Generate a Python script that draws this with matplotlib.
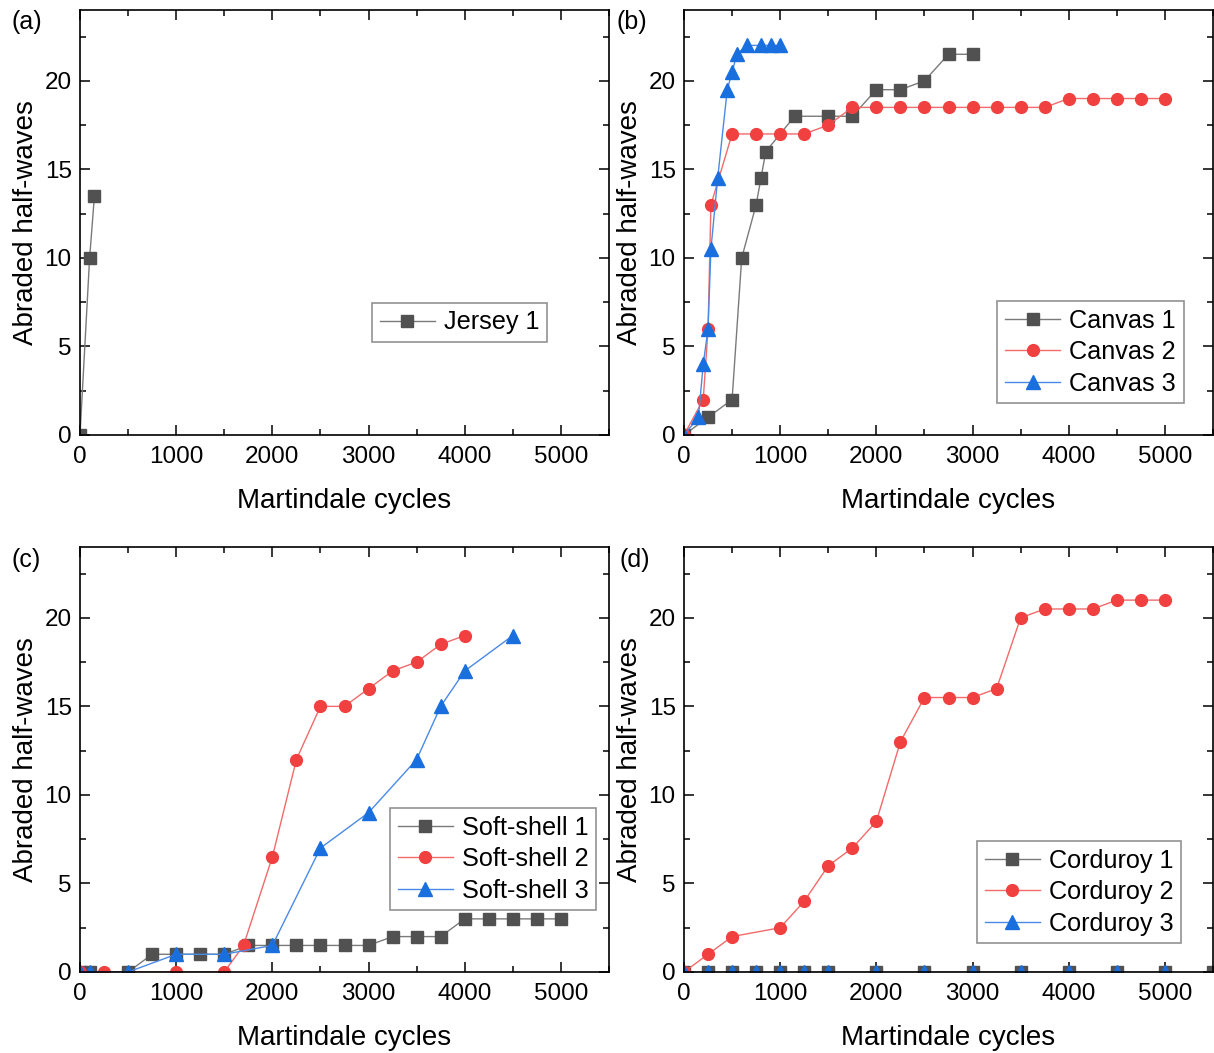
import matplotlib
matplotlib.use("Agg")
import matplotlib.pyplot as plt
from matplotlib.ticker import MultipleLocator

plt.rcParams['font.family'] = ['Liberation Sans', 'DejaVu Sans']

# ---- data ----
jersey1_x = [0, 100, 150]
jersey1_y = [0, 10, 13.5]

canvas1_x = [0, 250, 500, 600, 750, 800, 850, 1150, 1500, 1750, 2000, 2250, 2500, 2750, 3000]
canvas1_y = [0, 1, 2, 10, 13, 14.5, 16, 18, 18, 18, 19.5, 19.5, 20, 21.5, 21.5]
canvas2_x = [0, 200, 250, 280, 500, 750, 1000, 1250, 1500, 1750, 2000, 2250, 2500, 2750, 3000,
             3250, 3500, 3750, 4000, 4250, 4500, 4750, 5000]
canvas2_y = [0, 2, 6, 13, 17, 17, 17, 17, 17.5, 18.5, 18.5, 18.5, 18.5, 18.5, 18.5,
             18.5, 18.5, 18.5, 19, 19, 19, 19, 19]
canvas3_x = [0, 150, 200, 250, 280, 350, 450, 500, 550, 650, 800, 900, 1000]
canvas3_y = [0, 1, 4, 6, 10.5, 14.5, 19.5, 20.5, 21.5, 22, 22, 22, 22]

soft1_x = [0, 100, 500, 750, 1000, 1250, 1500, 1750, 2000, 2250, 2500, 2750, 3000,
           3250, 3500, 3750, 4000, 4250, 4500, 4750, 5000]
soft1_y = [0, 0, 0, 1, 1, 1, 1, 1.5, 1.5, 1.5, 1.5, 1.5, 1.5,
           2, 2, 2, 3, 3, 3, 3, 3]
soft2_x = [0, 250, 1000, 1500, 1700, 2000, 2250, 2500, 2750, 3000, 3250, 3500, 3750, 4000]
soft2_y = [0, 0, 0, 0, 1.5, 6.5, 12, 15, 15, 16, 17, 17.5, 18.5, 19]
soft3_x = [0, 100, 500, 1000, 1500, 2000, 2500, 3000, 3500, 3750, 4000, 4500]
soft3_y = [0, 0, 0, 1, 1, 1.5, 7, 9, 12, 15, 17, 19]

cord1_x = [0, 250, 500, 750, 1000, 1250, 1500, 2000, 2500, 3000, 3500, 4000, 4500, 5000, 5500]
cord1_y = [0, 0, 0, 0, 0, 0, 0, 0, 0, 0, 0, 0, 0, 0, 0]
cord2_x = [0, 250, 500, 1000, 1250, 1500, 1750, 2000, 2250, 2500, 2750, 3000, 3250, 3500,
           3750, 4000, 4250, 4500, 4750, 5000]
cord2_y = [0, 1, 2, 2.5, 4, 6, 7, 8.5, 13, 15.5, 15.5, 15.5, 16, 20,
           20.5, 20.5, 20.5, 21, 21, 21]
cord3_x = [0, 250, 500, 750, 1000, 1250, 1500, 2000, 2500, 3000, 3500, 4000, 4500, 5000]
cord3_y = [0, 0, 0, 0, 0, 0, 0, 0, 0, 0, 0, 0, 0, 0]

panel_labels = ['(a)', '(b)', '(c)', '(d)']
xlabel = 'Martindale cycles'
ylabel = 'Abraded half-waves'

C_GRAY = '#515151'
C_RED = '#F14040'
C_BLUE = '#1A6FDF'
LINE_GRAY = '#7a7a7a'
LINE_RED = '#f26a6a'
LINE_BLUE = '#4a8ae6'

W, H = 1214, 1053
fig = plt.figure(figsize=(W / 100, H / 100), dpi=100)


def ax_at(left, top, right, bottom):
    return fig.add_axes([left / W, 1 - bottom / H, (right - left) / W, (bottom - top) / H])


axes = [
    ax_at(80, 10, 609, 435),
    ax_at(684, 10, 1213, 435),
    ax_at(80, 547, 609, 972),
    ax_at(684, 547, 1213, 972),
]

styles = [
    dict(color=LINE_GRAY, marker='s', mfc=C_GRAY, mec=C_GRAY, ms=8),
    dict(color=LINE_RED, marker='o', mfc=C_RED, mec=C_RED, ms=8.5),
    dict(color=LINE_BLUE, marker='^', mfc=C_BLUE, mec=C_BLUE, ms=9.5),
]

panels = [
    [(jersey1_x, jersey1_y, 'Jersey 1')],
    [(canvas1_x, canvas1_y, 'Canvas 1'), (canvas2_x, canvas2_y, 'Canvas 2'), (canvas3_x, canvas3_y, 'Canvas 3')],
    [(soft1_x, soft1_y, 'Soft-shell 1'), (soft2_x, soft2_y, 'Soft-shell 2'), (soft3_x, soft3_y, 'Soft-shell 3')],
    [(cord1_x, cord1_y, 'Corduroy 1'), (cord2_x, cord2_y, 'Corduroy 2'), (cord3_x, cord3_y, 'Corduroy 3')],
]

legend_anchor = [(0.552, 0.311), (0.592, 0.315), (0.586, 0.386), (0.554, 0.308)]

for i, ax in enumerate(axes):
    for j, (x, y, lab) in enumerate(panels[i]):
        ax.plot(x, y, lw=1.0, label=lab, clip_on=True, **styles[j])
    ax.set_xlim(0, 5500)
    ax.set_ylim(0, 24)
    ax.xaxis.set_major_locator(MultipleLocator(1000))
    ax.xaxis.set_minor_locator(MultipleLocator(500))
    ax.yaxis.set_major_locator(MultipleLocator(5))
    ax.yaxis.set_minor_locator(MultipleLocator(2.5))
    ax.tick_params(which='both', direction='in', top=True, right=True, width=1.1)
    ax.tick_params(which='major', length=7, labelsize=17.5)
    ax.tick_params(axis='x', which='major', pad=8)
    ax.tick_params(axis='y', which='major', pad=6)
    ax.tick_params(which='minor', length=4)
    for s in ax.spines.values():
        s.set_linewidth(1.2)
    ax.set_xlabel(xlabel, fontsize=20, labelpad=14)
    ax.set_ylabel(ylabel, fontsize=20, labelpad=4)
    leg = ax.legend(loc='upper left', bbox_to_anchor=legend_anchor[i], borderaxespad=0,
                    fontsize=18.2, frameon=True, fancybox=False, handlelength=2.2,
                    labelspacing=0.3, borderpad=0.3, handletextpad=0.35)
    leg.get_frame().set_edgecolor('#777777')
    leg.get_frame().set_linewidth(1.2)

label_pos = [(12, 22), (616, 22), (12, 560), (619, 560)]
for lab, (px, py) in zip(panel_labels, label_pos):
    fig.text(px / W, 1 - py / H, lab, fontsize=18, ha='left', va='center')

fig.savefig('out.png', dpi=100)
